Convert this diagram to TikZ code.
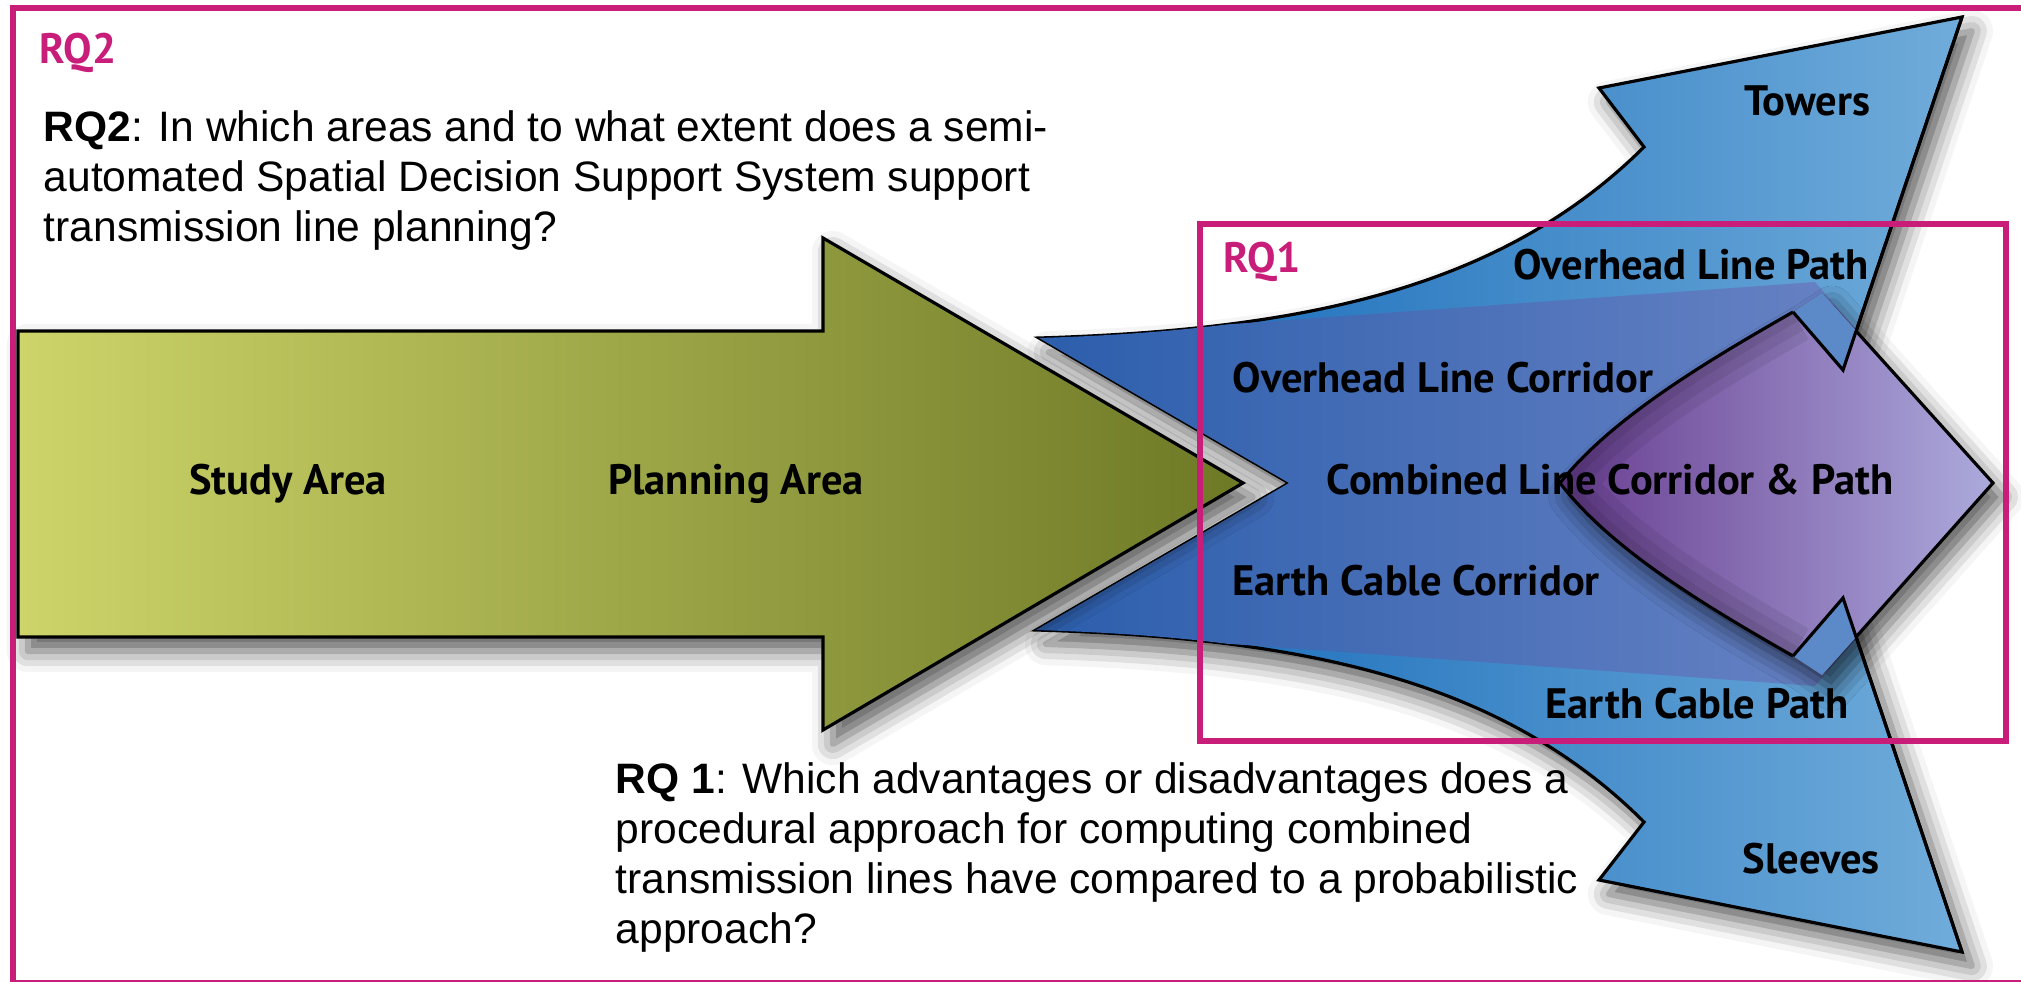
\documentclass[tikz,border=0pt]{standalone}
\usepackage{fontspec}
\setmainfont{Liberation Sans}
\newfontfamily\lblfont{PT Sans}
\usepackage{tikz}
\usetikzlibrary{shadows.blur}
\definecolor{rqmagenta}{RGB}{200,30,122}
\definecolor{greenlight}{RGB}{205,212,105}
\definecolor{greendark}{RGB}{110,121,38}
\definecolor{bluedark}{RGB}{14,100,182}
\definecolor{bluelight}{RGB}{112,172,218}
\definecolor{bandleft}{RGB}{44,94,172}
\definecolor{bandright}{RGB}{104,130,196}
\definecolor{purpledark}{RGB}{105,62,145}
\definecolor{purplemid}{RGB}{126,82,162}
\definecolor{purplelight}{RGB}{172,170,220}
\definecolor{headblue}{RGB}{92,138,200}
\newcommand{\corridorpath}{(1039,338) .. controls (1300,330) and (1500,290) .. (1644,147) -- (1599,88) -- (1962,17) -- (1843,370) -- (1760,484) -- (1843,598) -- (1962,952) -- (1599,880) -- (1644,822) .. controls (1500,678) and (1300,638) .. (1036,630) -- (1289,483) -- cycle}
\newcommand{\combinedpath}{(1822,293) -- (1993,483) -- (1822,675) -- (1793,656) .. controls (1700,603) and (1610,548) .. (1560,483) .. controls (1610,420) and (1700,365) .. (1793,312) -- cycle}

\begin{document}
\begin{tikzpicture}[x=0.01cm, y=-0.01cm,
    outline/.style={draw=black, line width=0.9pt, line join=miter},
    softshadow/.style={blur shadow={shadow xshift=2.8pt, shadow yshift=-4pt, shadow blur radius=6pt, shadow opacity=65}},
    arrowtext/.style={font=\lblfont\bfseries\fontsize{12.1}{14}\selectfont, inner sep=0pt, anchor=base},
    question/.style={font=\fontsize{12.1}{14.2}\selectfont, align=left, inner sep=0pt, anchor=north west},
    rqframe/.style={draw=rqmagenta, line width=1.7pt},
    tag/.style={font=\lblfont\bfseries\fontsize{12.1}{14}\selectfont, text=rqmagenta, inner sep=0pt, anchor=base west}
]
    \useasboundingbox (0,0) rectangle (2021,982);

    \path[softshadow, left color=bluedark, right color=bluelight, outline] \corridorpath;
    \begin{scope}
        \clip \corridorpath;
        \shade[left color=bandleft, right color=bandright] (1039,338) -- (1815,282) -- (1857,330) -- (1857,638) -- (1815,686) -- (1036,630) -- (1289,483) -- cycle;
    \end{scope}

    \path[softshadow, left color=greenlight, right color=greendark, outline] (18,331) -- (823,331) -- (823,238) -- (1243,483) -- (823,730) -- (823,637) -- (18,637) -- cycle;

    \fill[softshadow, left color=purpledark, middle color=purplemid, right color=purplelight] \combinedpath;
    \begin{scope}
        \clip \combinedpath;
        \foreach \w in {18,12,6}
            \draw[black, opacity=0.07, line width=\w pt] (1793,656) .. controls (1700,603) and (1610,548) .. (1560,483) .. controls (1610,420) and (1700,365) .. (1793,312);
    \end{scope}
    \fill[headblue] (1793,312) -- (1822,293) -- (1856,331) -- (1843,370) -- cycle;
    \fill[headblue] (1793,656) -- (1822,675) -- (1856,637) -- (1843,598) -- cycle;
    \draw[outline] (1856,331) -- (1993,483) -- (1856,637);
    \draw[outline] (1793,656) .. controls (1700,603) and (1610,548) .. (1560,483) .. controls (1610,420) and (1700,365) .. (1793,312);
    \draw[outline] (1962,17) -- (1843,370) -- (1793,312);
    \draw[outline] (1962,952) -- (1843,598) -- (1793,656);

    \draw[rqframe] (13,8) rectangle (2040,983);
    \draw[rqframe] (1200,224) rectangle (2006,741);
    \node[tag] (rqtwo) at (39,64) {RQ2};
    \node[tag] (rqone) at (1223,272) {RQ1};

    \node[arrowtext] (study) at (288,494) {Study Area};
    \node[arrowtext] (planning) at (736,494) {Planning Area};
    \node[arrowtext] (towers) at (1807,116) {Towers};
    \node[arrowtext] (ohpath) at (1691,280) {Overhead Line Path};
    \node[arrowtext] (ohcorridor) at (1443,393) {Overhead Line Corridor};
    \node[arrowtext] (combined) at (1610,494) {Combined Line Corridor \& Path};
    \node[arrowtext] (eccorridor) at (1416,595) {Earth Cable Corridor};
    \node[arrowtext] (ecpath) at (1697,718) {Earth Cable Path};
    \node[arrowtext] (sleeves) at (1811,873) {Sleeves};

    \node[question] (qtwo) at (43,110) {\textbf{RQ2}: In which areas and to what extent does a semi-\\automated Spatial Decision Support System support\\transmission line planning?};
    \node[question] (qone) at (615,762) {\textbf{RQ 1}: Which advantages or disadvantages does a\\procedural approach for computing combined\\transmission lines have compared to a probabilistic\\approach?};
\end{tikzpicture}
\end{document}
